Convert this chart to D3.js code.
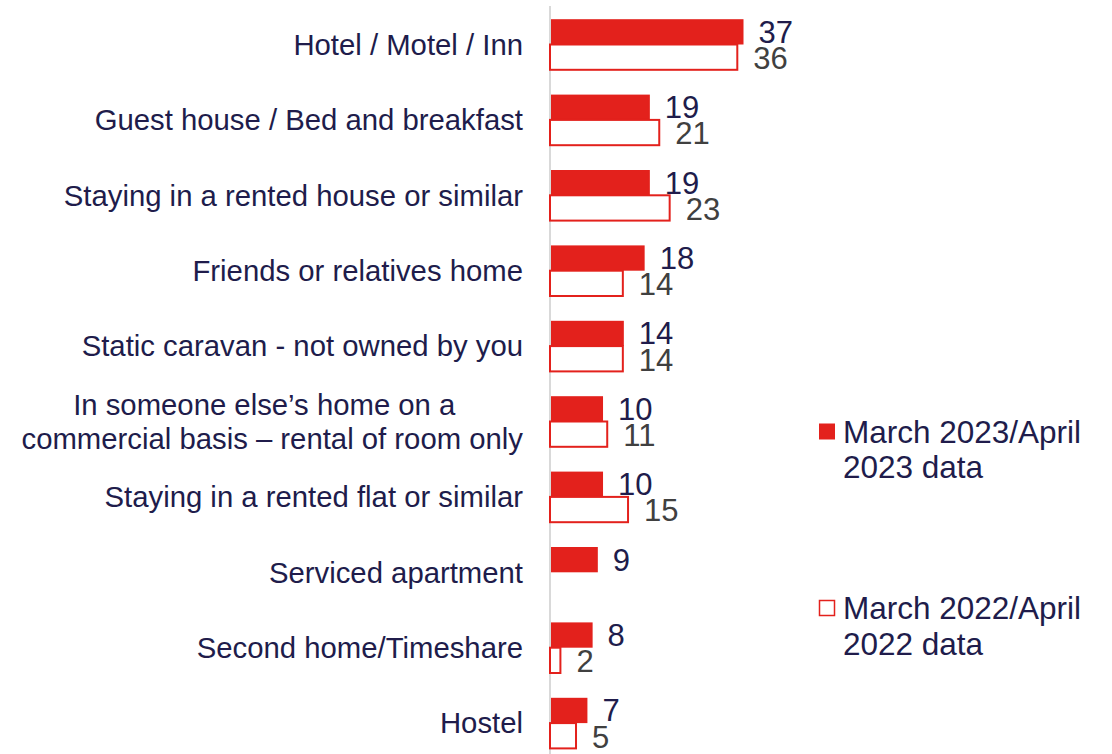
<!DOCTYPE html>
<html>
<head>
<meta charset="utf-8">
<script src="https://cdn.jsdelivr.net/npm/d3@7"></script>
<style>
  body { margin: 0; background: #fff; }
  svg { display: block; font-family: "Liberation Sans", Arial, sans-serif; }
</style>
</head>
<body>
<svg id="chart" width="1112" height="754"></svg>
<script>
// Categories, top to bottom
var categories = [
    "Hotel / Motel / Inn",
    "Guest house / Bed and breakfast",
    "Staying in a rented house or similar",
    "Friends or relatives home",
    "Static caravan - not owned by you",
    "In someone else\u2019s home on a commercial basis \u2013 rental of room only",
    "Staying in a rented flat or similar",
    "Serviced apartment",
    "Second home/Timeshare",
    "Hostel"
];
// the long label is split over two lines like the original
var labelLines = {
    "In someone else\u2019s home on a commercial basis \u2013 rental of room only":
        ["In someone else\u2019s home on a", "commercial basis \u2013 rental of room only"]
};
var values2023 = [37, 19, 19, 18, 14, 10, 10, 9, 8, 7];
var values2022 = [36, 21, 23, 14, 14, 11, 15, null, 2, 5];
var seriesNames = ["March 2023/April 2023 data", "March 2022/April 2022 data"];

var red = "#e3211c",
    navy = "#201c4b",
    grey = "#404040";

var svg = d3.select("#chart");

var x = d3.scaleLinear().domain([0, 37]).range([551, 743.5]);
var y = d3.scaleBand().domain(categories).range([6.8, 760.8]).paddingInner(0).paddingOuter(0);
var barH = 25.3;

// build rows
var rows = categories.map(function(c, i) {
    return {name: c, v23: values2023[i], v22: values2022[i]};
});

// vertical axis line
svg.append("line")
    .attr("x1", 550).attr("x2", 550)
    .attr("y1", 6).attr("y2", 754)
    .attr("stroke", "#d9d9d9")
    .attr("stroke-width", 2);

var g = svg.selectAll(".row")
    .data(rows)
    .enter().append("g")
    .attr("class", "row");

function mid(d) { return y(d.name) + y.bandwidth() / 2; }

// 2023 filled bars
g.append("rect")
    .attr("x", x(0))
    .attr("y", function(d) { return mid(d) - barH; })
    .attr("width", function(d) { return x(d.v23) - x(0); })
    .attr("height", barH)
    .attr("fill", red);

// 2022 outline bars
g.filter(function(d) { return d.v22 != null; })
    .append("rect")
    .attr("x", x(0) - 1)
    .attr("y", function(d) { return mid(d); })
    .attr("width", function(d) { return x(d.v22) - x(0); })
    .attr("height", barH)
    .attr("fill", "#fff")
    .attr("stroke", red)
    .attr("stroke-width", 2);

// value labels
g.append("text")
    .attr("x", function(d) { return x(d.v23) + 15; })
    .attr("y", function(d) { return mid(d) - barH / 2; })
    .attr("dy", "0.35em")
    .attr("font-size", 31)
    .attr("fill", navy)
    .text(function(d) { return d.v23; });

g.filter(function(d) { return d.v22 != null; })
    .append("text")
    .attr("x", function(d) { return x(d.v22) + 15; })
    .attr("y", function(d) { return mid(d) + barH / 2 + 1; })
    .attr("dy", "0.35em")
    .attr("font-size", 31)
    .attr("fill", grey)
    .text(function(d) { return d.v22; });

// category labels
g.each(function(d) {
    var lines = labelLines[d.name];
    var sel = d3.select(this);
    if (!lines) {
        sel.append("text")
            .attr("x", 523)
            .attr("y", mid(d))
            .attr("dy", "0.35em")
            .attr("text-anchor", "end")
            .attr("font-size", 29.3)
            .attr("fill", navy)
            .text(d.name);
    } else {
        var second = sel.append("text")
            .attr("x", 523)
            .attr("y", mid(d) + 17)
            .attr("dy", "0.35em")
            .attr("text-anchor", "end")
            .attr("font-size", 29.3)
            .attr("fill", navy)
            .text(lines[1]);
        var w = second.node().getComputedTextLength();
        sel.append("text")
            .attr("x", 523 - w / 2 - 8)
            .attr("y", mid(d) - 17)
            .attr("dy", "0.35em")
            .attr("text-anchor", "middle")
            .attr("font-size", 29.3)
            .attr("fill", navy)
            .text(lines[0]);
    }
});

// legend
var legendY = [431.5, 608];
var legend = svg.selectAll(".legend")
    .data(seriesNames)
    .enter().append("g")
    .attr("class", "legend")
    .attr("transform", function(d, i) { return "translate(819," + legendY[i] + ")"; });

legend.append("rect")
    .attr("x", function(d, i) { return i == 0 ? 0 : 0.5; })
    .attr("y", function(d, i) { return i == 0 ? -8 : -7.5; })
    .attr("width", function(d, i) { return i == 0 ? 16 : 15; })
    .attr("height", function(d, i) { return i == 0 ? 16 : 15; })
    .attr("fill", function(d, i) { return i == 0 ? red : "#fff"; })
    .attr("stroke", function(d, i) { return i == 0 ? "none" : red; })
    .attr("stroke-width", 1.5);

legend.each(function(d) {
    var parts = d.split(" ");
    var l1 = parts.slice(0, 2).join(" "),
        l2 = parts.slice(2).join(" ");
    var t = d3.select(this).append("text")
        .attr("font-size", 31.5)
        .attr("fill", navy);
    t.append("tspan").attr("x", 24).attr("y", 11).text(l1);
    t.append("tspan").attr("x", 24).attr("y", 46.5).text(l2);
});
</script>
</body>
</html>
